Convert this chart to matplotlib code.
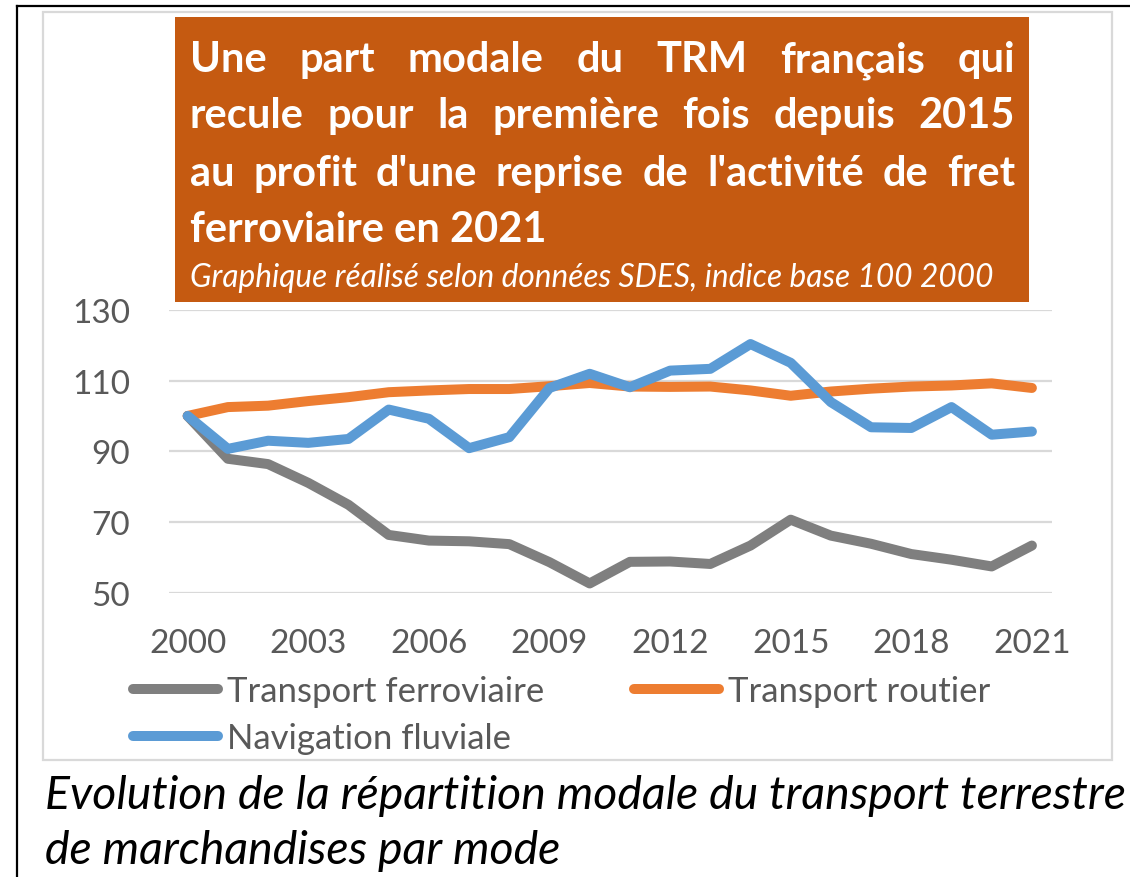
import numpy as np
import matplotlib
matplotlib.use("Agg")
import matplotlib.pyplot as plt
from matplotlib.lines import Line2D
from matplotlib.patches import Rectangle

YEARS = list(range(2000, 2022))
FERROVIAIRE = [100, 87.9, 86.4, 81.1, 74.9, 66.4, 64.8, 64.6, 63.8, 58.7, 52.7,
               58.8, 58.9, 58.2, 63.4, 70.7, 66.2, 63.9, 61.0, 59.4, 57.5, 63.4]
ROUTIER = [100, 102.5, 102.9, 104.2, 105.3, 106.7, 107.2, 107.6, 107.6, 108.4, 109.3,
           108.3, 108.2, 108.3, 107.2, 105.7, 106.9, 107.7, 108.3, 108.6, 109.2, 107.9]
FLUVIAL = [100, 90.7, 93.0, 92.4, 93.5, 101.8, 99.2, 90.9, 94.0, 107.9, 111.9,
           108.1, 112.8, 113.3, 120.3, 115.0, 103.9, 96.8, 96.6, 102.5, 94.7, 95.6]
LABELS = ["Transport ferroviaire", "Transport routier", "Navigation fluviale"]
Y_TICKS = [50, 70, 90, 110, 130]
X_TICKS = list(range(2000, 2022, 3))

TITLE_LINES = ["Une part modale du TRM français qui",
               "recule pour la première fois depuis 2015",
               "au profit d'une reprise de l'activité de fret",
               "ferroviaire en 2021"]
SUBTITLE = "Graphique réalisé selon données SDES, indice base 100 2000"
CAPTION = ["Evolution de la répartition modale du transport terrestre",
           "de marchandises par mode"]

# ── Style ────────────────────────────────────────────────────────────────────
W, H = 1130, 878
FONT = "Lato"
GREY_TXT = "#595959"
COLORS = ["#7F7F7F", "#ED7D31", "#5B9BD5"]
plt.rcParams["font.family"] = [FONT, "DejaVu Sans"]


def fx(x):
    return x / W


def fy(y):
    return 1 - y / H


fig = plt.figure(figsize=(W / 100, H / 100), dpi=100)
renderer = fig.canvas.get_renderer()

# cadres
fig.add_artist(Line2D([fx(17), fx(17)], [fy(7), 0], color="black", lw=1.6))
fig.add_artist(Line2D([fx(17), 1], [fy(7), fy(7)], color="black", lw=1.6))
fig.add_artist(Rectangle((fx(43), fy(761)), fx(1112) - fx(43), fy(13) - fy(761),
                         transform=fig.transFigure, fill=False,
                         ec="#D9D9D9", lw=1.6))

# ── Axes ─────────────────────────────────────────────────────────────────────
ax = fig.add_axes([fx(169), fy(594), fx(1052) - fx(169), fy(310.7) - fy(594)])
series = [FERROVIAIRE, ROUTIER, FLUVIAL]
lines = []
for vals, col, lab in zip(series, COLORS, LABELS):
    ln, = ax.plot(YEARS, vals, color=col, lw=7.2, solid_capstyle="round",
                  solid_joinstyle="round", label=lab, clip_on=False)
    lines.append(ln)

ax.set_xlim(1999.535, 2021.5)
ax.set_ylim(50, 130)
ax.set_yticks(Y_TICKS)
ax.set_xticks(X_TICKS)
ax.grid(True, axis="y", color="#D9D9D9", lw=1.6)
ax.set_axisbelow(True)
for s in ax.spines.values():
    s.set_visible(False)
ax.tick_params(axis="both", length=0, labelsize=24, labelcolor=GREY_TXT)
ax.tick_params(axis="y", pad=28)
ax.tick_params(axis="x", pad=25)

# légende : une entrée par position (disposition Excel)
legend_pos = [(133, 692), (634, 692), (133, 739)]
for ln, lab, (x, y) in zip(lines, LABELS, legend_pos):
    fig.legend([ln], [lab], loc="center left",
               bbox_to_anchor=(fx(x), fy(y)), frameon=False,
               fontsize=25, handlelength=2.45, handletextpad=0.25,
               borderpad=0, borderaxespad=0, labelcolor=GREY_TXT)

# ── Encadré titre ────────────────────────────────────────────────────────────
fig.add_artist(Rectangle((fx(175), fy(303)), fx(1029) - fx(175), fy(18) - fy(303),
                         transform=fig.transFigure, color="#C55A11", lw=0))

x0, x1 = 190, 1015
title_size = 30
# taille ajustée pour que la ligne la plus longue tienne dans l'encadré
probe = [fig.text(0, 0, l, fontsize=title_size, fontweight="bold") for l in TITLE_LINES[:3]]
maxw = max(t.get_window_extent(renderer).width for t in probe)
for t in probe:
    t.remove()
if maxw > (x1 - x0) * 0.97:
    title_size *= (x1 - x0) * 0.97 / maxw

baselines = [72, 128, 186, 242]
for i, (line, yb) in enumerate(zip(TITLE_LINES, baselines)):
    kw = dict(fontsize=title_size, fontweight="bold", color="white", va="baseline")
    if i == len(TITLE_LINES) - 1:
        fig.text(fx(x0), fy(yb), line, ha="left", **kw)
        continue
    # texte justifié : on répartit l'espace restant entre les mots
    words = line.split()
    texts = [fig.text(0, fy(yb), w, ha="left", **kw) for w in words]
    widths = [t.get_window_extent(renderer).width for t in texts]
    gap = (x1 - x0 - sum(widths)) / (len(words) - 1)
    x = x0
    for t, w in zip(texts, widths):
        t.set_x(fx(x))
        x += w + gap

sub = fig.text(fx(190), fy(287), SUBTITLE, fontsize=20, style="italic",
               color="white", va="baseline", ha="left")
sw = sub.get_window_extent(renderer).width
sub.set_fontsize(20 * 802 / sw)

# ── Légende du document ──────────────────────────────────────────────────────
cap1 = fig.text(fx(45), fy(809), CAPTION[0], fontsize=28, style="italic",
                color="black", va="baseline", ha="left")
cw = cap1.get_window_extent(renderer).width
cap_size = 28 * 1080 / cw
cap1.set_fontsize(cap_size)
fig.text(fx(45), fy(864), CAPTION[1], fontsize=cap_size, style="italic",
         color="black", va="baseline", ha="left")

fig.savefig("out.png", dpi=100)
